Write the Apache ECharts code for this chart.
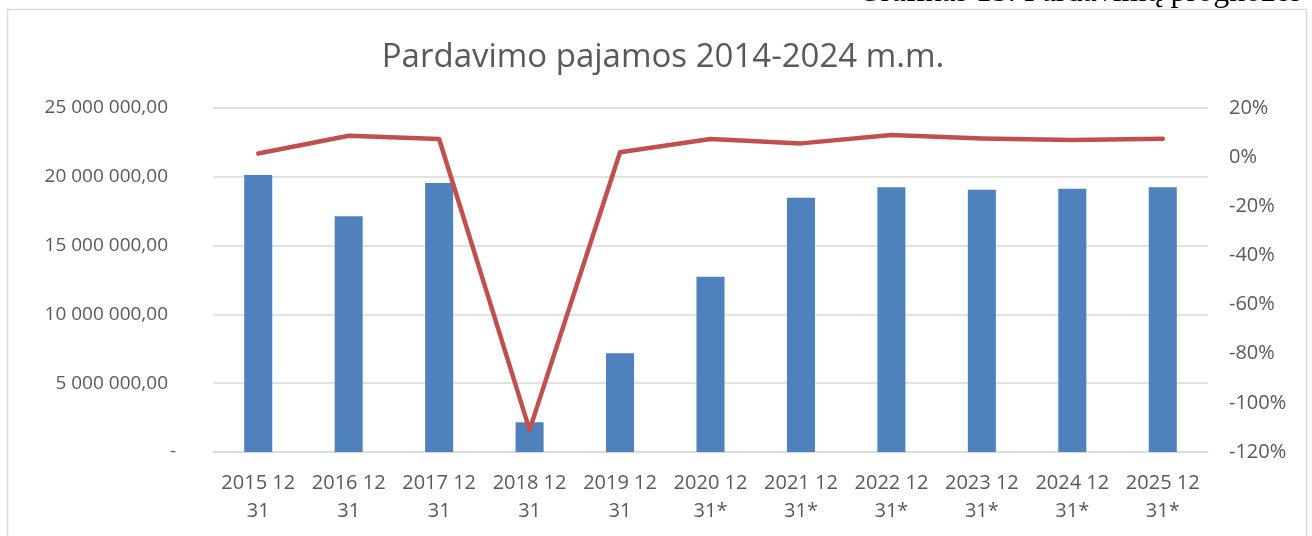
<!DOCTYPE html>
<html>
<head>
<meta charset="utf-8">
<script src="https://cdn.jsdelivr.net/npm/echarts@6/dist/echarts.min.js"></script>
<style>
html,body{margin:0;padding:0;background:#fff;}
#chart{width:1312px;height:536px;}
</style>
</head>
<body>
<div id="chart"></div>
<script>
const categories = ['2015 12\n31','2016 12\n31','2017 12\n31','2018 12\n31','2019 12\n31','2020 12\n31*','2021 12\n31*','2022 12\n31*','2023 12\n31*','2024 12\n31*','2025 12\n31*'];
const revenue = [20130000,17130000,19550000,2160000,7170000,12740000,18480000,19240000,19060000,19140000,19240000];
const growthPct = [1.5,8.7,7.4,-111,2.0,7.4,5.6,9.0,7.6,7.0,7.5];
const titleText = 'Pardavimo pajamos 2014-2024 m.m.';
const captionText = 'Grafikas 15. Pardavimų prognozės';

const FONT = 'Open Sans';
const TXT = '#595959';
const GRID = '#D9D9D9';

function fmtLeft(v){
  if (v === 0) return '{d|-}';
  const s = String(Math.round(v)).replace(/\B(?=(\d{3})+(?!\d))/g, ' ');
  return '{n|' + s + ',00}';
}

const chart = echarts.init(document.getElementById('chart'), null, {renderer:'canvas'});
chart.setOption({
  animation: false,
  backgroundColor: '#fff',
  title: {
    text: titleText,
    left: 658, top: 36,
    textAlign: 'center',
    textStyle: {fontFamily: FONT, fontSize: 33, fontWeight: 'normal', color: TXT}
  },
  graphic: [
    {type:'rect', z:-10, silent:true, shape:{x:7.5,y:9.5,width:1299,height:540}, style:{fill:'#fff', stroke:GRID, lineWidth:1.5}},
    {type:'text', z:10, silent:true, x:1302, y:-7, style:{text:captionText, font:'32px "Liberation Serif"', fill:'#000', textAlign:'right', textVerticalAlign:'middle'}}
  ],
  grid: {left:213, right:104, top:108, bottom:84},
  xAxis: {
    type:'category', data: categories,
    axisLine:{lineStyle:{color:GRID, width:1.5}},
    axisTick:{show:false},
    axisLabel:{fontFamily:FONT, fontSize:20, color:TXT, lineHeight:28, margin:17, interval:0}
  },
  yAxis: [
    {
      type:'value', min:0, max:25000000, interval:5000000,
      axisLine:{show:false}, axisTick:{show:false},
      splitLine:{lineStyle:{color:GRID, width:1.5}},
      axisLabel:{
        margin:37, formatter: fmtLeft,
        rich:{
          n:{fontFamily:FONT, fontSize:19, color:TXT, padding:[0,8,0,0]},
          d:{fontFamily:FONT, fontSize:19, color:TXT}
        }
      }
    },
    {
      type:'value', min:-120, max:20, interval:20,
      axisLine:{show:false}, axisTick:{show:false}, splitLine:{show:false},
      axisLabel:{margin:21, fontFamily:FONT, fontSize:20, color:TXT, formatter:'{value}%'}
    }
  ],
  series: [
    {type:'bar', name:'Pardavimo pajamos', data: revenue, yAxisIndex:0, barWidth:'31%', itemStyle:{color:'#4F81BD'}},
    {type:'line', name:'Pokytis', data: growthPct, yAxisIndex:1, symbol:'none', smooth:false,
     lineStyle:{color:'#C0504D', width:4.5, cap:'round', join:'round'}, z:5}
  ]
});
</script>
</body>
</html>
